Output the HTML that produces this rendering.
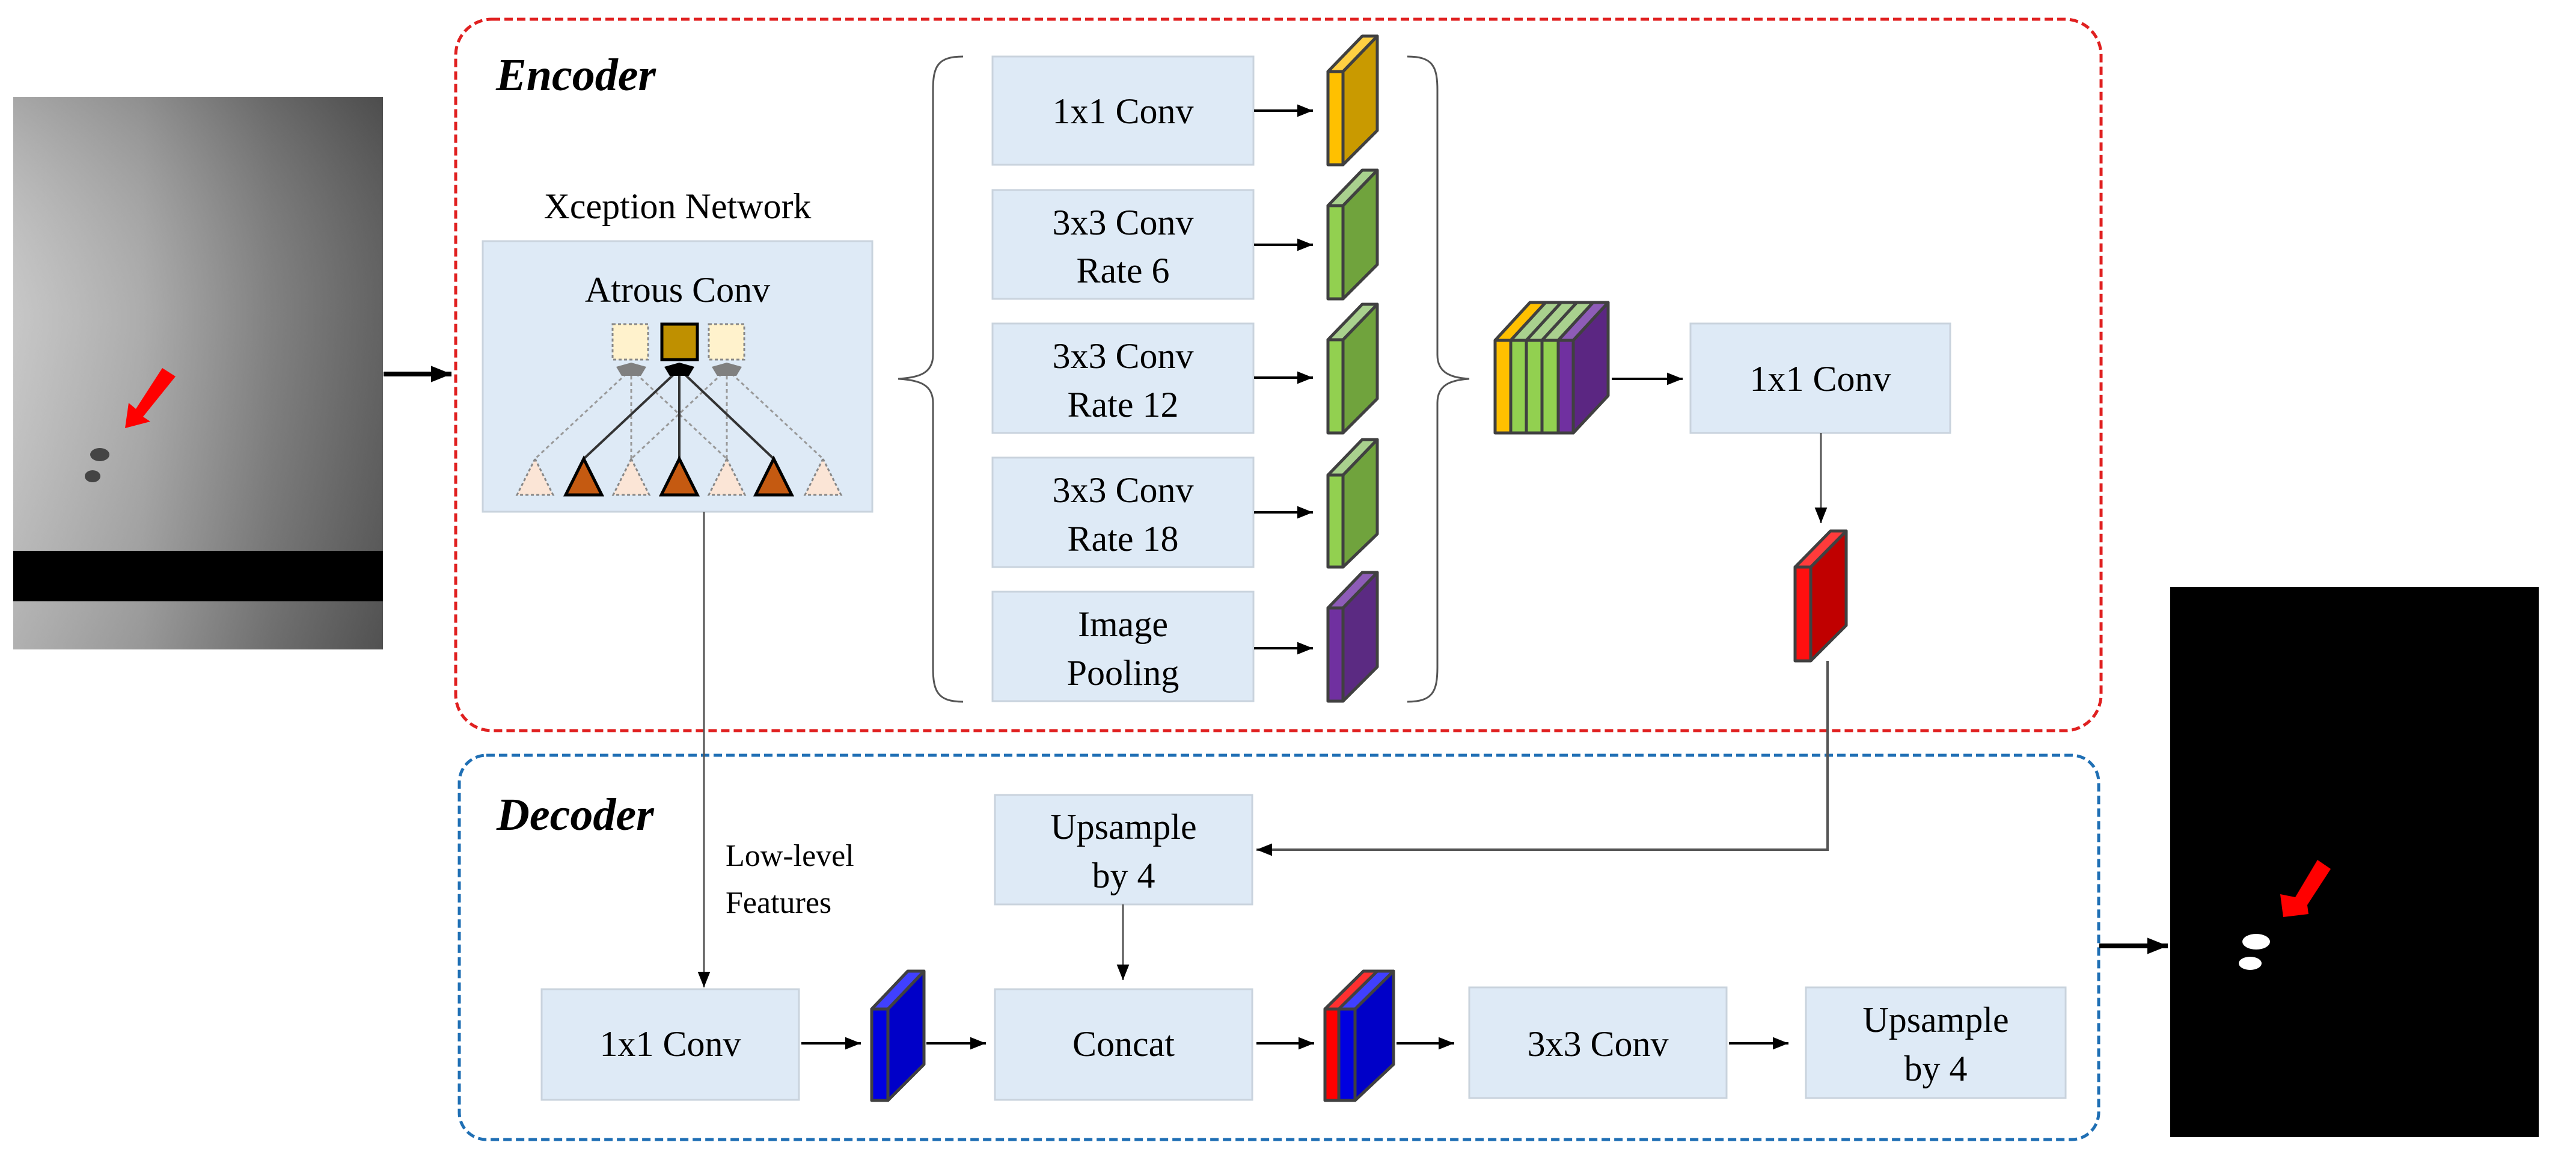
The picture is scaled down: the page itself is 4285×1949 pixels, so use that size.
<!DOCTYPE html>
<html><head><meta charset="utf-8"><style>
html,body{margin:0;padding:0;background:#fff}
svg{display:block}
svg text{font-family:"Liberation Serif","Times New Roman",Times,serif !important}
</style></head><body>
<svg width="4285" height="1949" viewBox="0 0 4285 1949" xmlns="http://www.w3.org/2000/svg">
<defs>
<marker id="a" viewBox="0 0 10 10" refX="10" refY="5" markerWidth="26" markerHeight="26" orient="auto" markerUnits="userSpaceOnUse"><path d="M0,1 L10,5 L0,9 z" fill="#000"/></marker>
<marker id="ab" viewBox="0 0 10 10" refX="10" refY="5" markerWidth="34" markerHeight="34" orient="auto" markerUnits="userSpaceOnUse"><path d="M0,1 L10,5 L0,9 z" fill="#000"/></marker>
<linearGradient id="g1" x1="0" y1="0" x2="1" y2="0"><stop offset="0" stop-color="#c4c4c4"/><stop offset="0.35" stop-color="#a8a8a8"/><stop offset="0.7" stop-color="#7a7a7a"/><stop offset="1" stop-color="#5a5a5a"/></linearGradient>
<linearGradient id="g2" x1="0" y1="0" x2="0" y2="1"><stop offset="0" stop-color="#000" stop-opacity="0.15"/><stop offset="0.4" stop-color="#fff" stop-opacity="0.05"/><stop offset="1" stop-color="#000" stop-opacity="0.1"/></linearGradient>
</defs>

<rect x="22" y="161" width="615" height="919" fill="url(#g1)"/>
<rect x="22" y="161" width="615" height="919" fill="url(#g2)"/>
<rect x="22" y="916" width="615" height="84" fill="#000"/>
<polygon points="270,612 292,626 238,693 250,701 208,712 214,670 226,680" fill="#f00"/>
<ellipse cx="166" cy="756" rx="16" ry="11" fill="#444"/>
<ellipse cx="154" cy="792" rx="13" ry="10" fill="#444"/>
<line x1="638" y1="622" x2="751" y2="622" stroke="#000" stroke-width="8" marker-end="url(#ab)"/>

<rect x="758" y="32" width="2737" height="1183" rx="60" fill="none" stroke="#e02020" stroke-width="5" stroke-dasharray="14,7"/>
<rect x="764" y="1256" width="2727" height="639" rx="45" fill="none" stroke="#1f6fb4" stroke-width="5" stroke-dasharray="14,7"/>
<text x="825" y="150" font-size="76" font-weight="bold" font-style="italic">Encoder</text>
<text x="826" y="1380" font-size="76" font-weight="bold" font-style="italic">Decoder</text>

<text x="1127" y="363" font-size="60" text-anchor="middle">Xception Network</text>
<rect x="803" y="401" width="648" height="450" fill="#deeaf6" stroke="#c9d3dd" stroke-width="3"/>
<text x="1127" y="502" font-size="60" text-anchor="middle">Atrous Conv</text>
<g stroke="#999" stroke-width="3" stroke-dasharray="6,5" fill="none">
<line x1="1050" y1="614" x2="890" y2="763"/><line x1="1050" y1="614" x2="1050" y2="763"/><line x1="1050" y1="614" x2="1209" y2="763"/>
<line x1="1209" y1="614" x2="1050" y2="763"/><line x1="1209" y1="614" x2="1209" y2="763"/><line x1="1209" y1="614" x2="1369" y2="763"/>
</g>
<g stroke="#333" stroke-width="4"><line x1="1130" y1="614" x2="971" y2="763"/><line x1="1130" y1="614" x2="1130" y2="763"/><line x1="1130" y1="614" x2="1287" y2="763"/></g>
<rect x="1019" y="539" width="59" height="59" fill="#fff2cc" stroke="#888" stroke-width="3" stroke-dasharray="5,4"/>
<rect x="1179" y="539" width="59" height="59" fill="#fff2cc" stroke="#888" stroke-width="3" stroke-dasharray="5,4"/>
<rect x="1101" y="539" width="59" height="59" fill="#bf9000" stroke="#000" stroke-width="5"/>
<polygon points="1050,603 1075,610 1066,625 1034,625 1025,610" fill="#808080"/>
<polygon points="1209,603 1234,610 1225,625 1193,625 1184,610" fill="#808080"/>
<polygon points="1130,603 1155,610 1146,625 1114,625 1105,610" fill="#000"/>
<g fill="#fbe5d6" stroke="#888" stroke-width="3" stroke-dasharray="5,4">
<polygon points="890,763 920,823 860,823"/><polygon points="1050,763 1080,823 1020,823"/><polygon points="1209,763 1239,823 1179,823"/><polygon points="1369,763 1399,823 1339,823"/></g>
<g fill="#c55a11" stroke="#000" stroke-width="5">
<polygon points="971,763 1001,823 941,823"/><polygon points="1130,763 1160,823 1100,823"/><polygon points="1287,763 1317,823 1257,823"/></g>

<path d="M1602,94 C1560,94 1552,110 1552,150 L1552,590 C1552,620 1530,628 1494,630 C1530,632 1552,640 1552,670 L1552,1110 C1552,1150 1560,1167 1602,1167" fill="none" stroke="#555" stroke-width="3"/>
<path d="M2341,94 C2383,94 2391,110 2391,150 L2391,590 C2391,620 2413,628 2444,630 C2413,632 2391,640 2391,670 L2391,1110 C2391,1150 2383,1167 2341,1167" fill="none" stroke="#555" stroke-width="3"/>

<g fill="#deeaf6" stroke="#c9d3dd" stroke-width="3">
<rect x="1651" y="94" width="434" height="180"/><rect x="1651" y="316" width="434" height="181"/>
<rect x="1651" y="538" width="434" height="182"/><rect x="1651" y="761" width="434" height="182"/>
<rect x="1651" y="984" width="434" height="182"/></g>
<g font-size="60" text-anchor="middle">
<text x="1868" y="205">1x1 Conv</text>
<text x="1868" y="390">3x3 Conv</text><text x="1868" y="470">Rate 6</text>
<text x="1868" y="612">3x3 Conv</text><text x="1868" y="693">Rate 12</text>
<text x="1868" y="835">3x3 Conv</text><text x="1868" y="916">Rate 18</text>
<text x="1868" y="1058">Image</text><text x="1868" y="1139">Pooling</text></g>
<g stroke="#000" stroke-width="4" marker-end="url(#a)">
<line x1="2086" y1="184" x2="2184" y2="184"/><line x1="2086" y1="407" x2="2184" y2="407"/>
<line x1="2086" y1="628" x2="2184" y2="628"/><line x1="2086" y1="852" x2="2184" y2="852"/>
<line x1="2086" y1="1078" x2="2184" y2="1078"/></g>

<g stroke="#404040" stroke-width="5" stroke-linejoin="round">
<polygon points="2234,119 2291,60 2291,217 2234,274" fill="#c99a00"/><polygon points="2209,119 2266,60 2291,60 2234,119" fill="#ffd043"/><rect x="2209" y="119" width="25" height="155" fill="#ffc000"/>
<polygon points="2234,342 2291,283 2291,440 2234,497" fill="#70a33d"/><polygon points="2209,342 2266,283 2291,283 2234,342" fill="#a9d18e"/><rect x="2209" y="342" width="25" height="155" fill="#92d050"/>
<polygon points="2234,565 2291,506 2291,663 2234,720" fill="#70a33d"/><polygon points="2209,565 2266,506 2291,506 2234,565" fill="#a9d18e"/><rect x="2209" y="565" width="25" height="155" fill="#92d050"/>
<polygon points="2234,790 2291,731 2291,888 2234,943" fill="#70a33d"/><polygon points="2209,790 2266,731 2291,731 2234,790" fill="#a9d18e"/><rect x="2209" y="790" width="25" height="153" fill="#92d050"/>
<polygon points="2234,1011 2291,952 2291,1109 2234,1166" fill="#5b2a82"/><polygon points="2209,1011 2266,952 2291,952 2234,1011" fill="#8e5cb8"/><rect x="2209" y="1011" width="25" height="155" fill="#7030a0"/>
<polygon points="2617,566 2675,503 2675,658 2617,720" fill="#5b2682"/>
<polygon points="2487,566 2545,503 2571,503 2513,566" fill="#ffc000"/>
<polygon points="2513,566 2571,503 2597,503 2539,566" fill="#a9d18e"/>
<polygon points="2539,566 2597,503 2623,503 2565,566" fill="#a9d18e"/>
<polygon points="2565,566 2623,503 2650,503 2592,566" fill="#a9d18e"/>
<polygon points="2592,566 2650,503 2675,503 2617,566" fill="#8e5cb8"/>
<rect x="2487" y="566" width="26" height="154" fill="#ffc000"/>
<rect x="2513" y="566" width="26" height="154" fill="#92d050"/>
<rect x="2539" y="566" width="26" height="154" fill="#92d050"/>
<rect x="2565" y="566" width="27" height="154" fill="#92d050"/>
<rect x="2592" y="566" width="25" height="154" fill="#7030a0"/>
<polygon points="3012,943 3071,883 3071,1040 3012,1099" fill="#c00000"/><polygon points="2986,943 3045,883 3071,883 3012,943" fill="#ff3b3b"/><rect x="2986" y="943" width="26" height="156" fill="#ff1010"/>
<polygon points="1477,1678 1537,1615 1537,1770 1477,1830" fill="#0000c8"/><polygon points="1450,1678 1510,1615 1537,1615 1477,1678" fill="#4040ff"/><rect x="1450" y="1678" width="27" height="152" fill="#0000e0"/>
<polygon points="2254,1678 2318,1615 2318,1770 2254,1830" fill="#0000c8"/><polygon points="2204,1678 2268,1615 2318,1615 2254,1678" fill="#4040ff"/><polygon points="2204,1678 2268,1615 2291,1615 2227,1678" fill="#ff3030"/><rect x="2204" y="1678" width="23" height="152" fill="#ff0000"/><rect x="2227" y="1678" width="27" height="152" fill="#0000e0"/>
</g>

<line x1="2681" y1="630" x2="2799" y2="630" stroke="#000" stroke-width="4" marker-end="url(#a)"/>
<rect x="2812" y="538" width="432" height="182" fill="#deeaf6" stroke="#c9d3dd" stroke-width="3"/>
<text x="3028" y="650" font-size="60" text-anchor="middle">1x1 Conv</text>
<line x1="3029" y1="720" x2="3029" y2="870" stroke="#555" stroke-width="3" marker-end="url(#a)"/>
<polyline points="3040,1099 3040,1413 2090,1413" fill="none" stroke="#555" stroke-width="4" marker-end="url(#a)"/>

<line x1="1171" y1="851" x2="1171" y2="1642" stroke="#555" stroke-width="3" marker-end="url(#a)"/>
<text x="1207" y="1440" font-size="52">Low-level</text>
<text x="1207" y="1518" font-size="52">Features</text>

<g fill="#deeaf6" stroke="#c9d3dd" stroke-width="3">
<rect x="1655" y="1322" width="428" height="182"/>
<rect x="901" y="1645" width="428" height="184"/>
<rect x="1655" y="1645" width="428" height="184"/>
<rect x="2444" y="1642" width="428" height="184"/>
<rect x="3004" y="1642" width="432" height="184"/></g>
<g font-size="60" text-anchor="middle">
<text x="1869" y="1395">Upsample</text><text x="1869" y="1476">by 4</text>
<text x="1115" y="1756">1x1 Conv</text>
<text x="1869" y="1756">Concat</text>
<text x="2658" y="1756">3x3 Conv</text>
<text x="3220" y="1716">Upsample</text><text x="3220" y="1797">by 4</text></g>
<line x1="1868" y1="1504" x2="1868" y2="1630" stroke="#555" stroke-width="3" marker-end="url(#a)"/>
<g stroke="#000" stroke-width="4" marker-end="url(#a)">
<line x1="1333" y1="1735" x2="1432" y2="1735"/><line x1="1541" y1="1735" x2="1640" y2="1735"/>
<line x1="2090" y1="1735" x2="2186" y2="1735"/><line x1="2323" y1="1735" x2="2419" y2="1735"/>
<line x1="2876" y1="1735" x2="2975" y2="1735"/></g>

<line x1="3492" y1="1573" x2="3606" y2="1573" stroke="#000" stroke-width="8" marker-end="url(#ab)"/>
<rect x="3610" y="976" width="613" height="915" fill="#000"/>
<polygon points="3855,1430 3877,1445 3838,1505 3840,1520 3798,1525 3793,1487 3818,1492" fill="#f00"/>
<ellipse cx="3753" cy="1566" rx="23" ry="13" fill="#fff"/>
<ellipse cx="3743" cy="1602" rx="19" ry="11" fill="#fff"/>
</svg>
</body></html>
